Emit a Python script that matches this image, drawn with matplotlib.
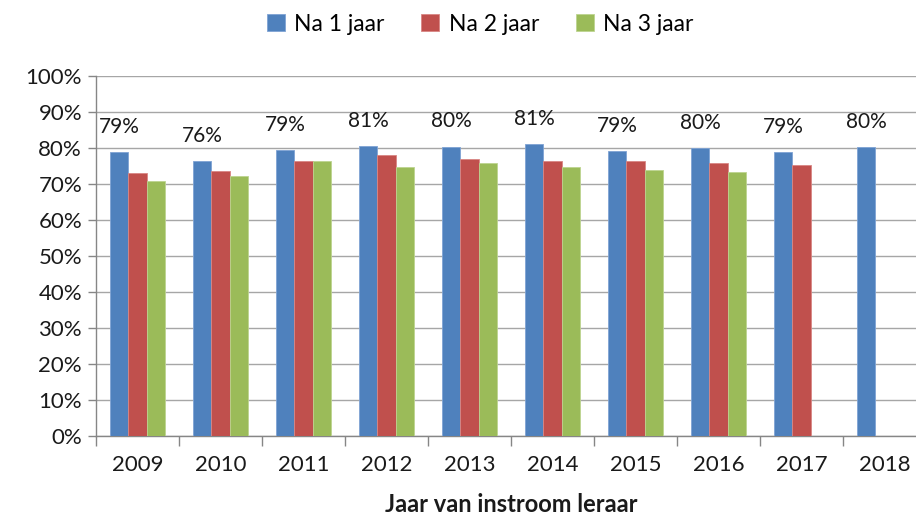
import matplotlib
matplotlib.use("Agg")
import matplotlib.pyplot as plt
import numpy as np
from matplotlib.ticker import FixedLocator, NullFormatter

plt.rcParams['font.family'] = ['Lato', 'DejaVu Sans']

years = ['2009', '2010', '2011', '2012', '2013', '2014', '2015', '2016', '2017', '2018']
na_1_jaar = [78.9, 76.4, 79.4, 80.6, 80.4, 81.0, 79.1, 80.0, 78.9, 80.2]
na_2_jaar = [73.0, 73.7, 76.3, 78.0, 76.9, 76.3, 76.3, 75.9, 75.4, None]
na_3_jaar = [70.8, 72.2, 76.3, 74.8, 75.9, 74.8, 74.0, 73.3, None, None]
blue_labels = ['79%', '76%', '79%', '81%', '80%', '81%', '79%', '80%', '79%', '80%']

series = [('Na 1 jaar', na_1_jaar, '#4F81BD', '#7FA3D4'),
          ('Na 2 jaar', na_2_jaar, '#C0504D', '#D98684'),
          ('Na 3 jaar', na_3_jaar, '#9BBB59', '#BDD490')]

fig = plt.figure(figsize=(9.16, 5.2), dpi=100)
ax = fig.add_axes([96 / 916, 1 - 436 / 520, 830 / 916, 360 / 520])

n = len(years)
x = np.arange(n) + 0.5
bw = 0.22
handles = []
for k, (name, vals, col, edge) in enumerate(series):
    xs = [xi + (k - 1) * bw for xi, v in zip(x, vals) if v is not None]
    hs = [v / 100 for v in vals if v is not None]
    b = ax.bar(xs, hs, width=bw, color=col, edgecolor=edge, linewidth=0.6,
               label=name, zorder=3)
    handles.append(b)

for xi, v, lab in zip(x, na_1_jaar, blue_labels):
    ax.annotate(lab, (xi - bw, v / 100), xytext=(0, 11), textcoords='offset points',
                ha='center', va='bottom', fontsize=15, color='#1a1a1a', zorder=4)

ax.set_xlim(0, n)
ax.set_ylim(0, 1)
ax.set_yticks(np.arange(0, 1.01, 0.1))
ax.set_yticklabels([f'{int(round(t * 100))}%' for t in np.arange(0, 1.01, 0.1)])
ax.set_xticks(x)
ax.set_xticklabels(years)
ax.xaxis.set_minor_locator(FixedLocator(np.arange(0, n + 1)))
ax.xaxis.set_minor_formatter(NullFormatter())
ax.tick_params(axis='x', which='major', length=0, pad=14, labelsize=16, colors='#1a1a1a')
ax.tick_params(axis='x', which='minor', length=7, width=1, color='#868686', direction='out')
ax.tick_params(axis='y', length=6, width=1, color='#868686', labelsize=16, pad=4,
               labelcolor='#1a1a1a')

ax.grid(axis='y', color='#A6A6A6', linewidth=1, zorder=0)
for side in ['top', 'right']:
    ax.spines[side].set_visible(False)
for side in ['left', 'bottom']:
    ax.spines[side].set_color('#868686')
    ax.spines[side].set_linewidth(1)

ax.set_xlabel('Jaar van instroom leraar', fontsize=17, fontweight='bold', labelpad=13,
              color='#1a1a1a')

fig.legend(handles=handles, loc='center', bbox_to_anchor=(480 / 916, 1 - 24 / 520),
           ncol=3, frameon=False, fontsize=16.5, handlelength=0.8, handleheight=0.8,
           handletextpad=0.4, columnspacing=1.6)

fig.savefig('out.png', dpi=100)
